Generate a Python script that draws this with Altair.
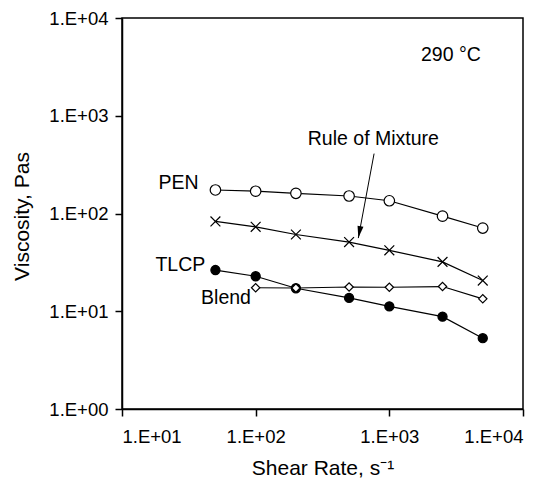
import altair as alt
import pandas as pd

# ---- data ----
shear_rate = [50, 100, 200, 500, 1000, 2500, 5000]
pen = [174, 169, 161, 151, 135, 94, 71]
rule_mix = [83, 73, 61, 51, 42, 32, 20.6]
tlcp = [26.4, 22.8, 17.2, 13.7, 11.2, 8.8, 5.3]
blend_x = [100, 200, 500, 1000, 2500, 5000]
blend = [17.4, 17.3, 17.7, 17.6, 17.9, 13.4]

series = ["PEN", "Rule of Mixture", "TLCP", "Blend"]

x_ticks = [10, 100, 1000, 10000]
y_ticks = [1, 10, 100, 1000, 10000]

ann_text = ["PEN", "TLCP", "Blend", "Rule of Mixture", "290 °C"]
ann_x = [26.5, 27.3, 60, 759, 2890]
ann_y = [206, 30.0, 13.7, 583, 4230]

arrow_x = [769]
arrow_y = [410]
arrow_x2 = [586]
arrow_y2 = [56]

rows = []
for s, xs, ys in [("PEN", shear_rate, pen), ("Rule of Mixture", shear_rate, rule_mix),
                  ("TLCP", shear_rate, tlcp), ("Blend", blend_x, blend)]:
    for xv, yv in zip(xs, ys):
        rows.append({"series": s, "rate": xv, "visc": yv})
df = pd.DataFrame(rows)
ann = pd.DataFrame({"t": ann_text, "x": ann_x, "y": ann_y})
arr = pd.DataFrame({"x": arrow_x, "y": arrow_y, "x2": arrow_x2, "y2": arrow_y2})

FONT = "Liberation Sans"

xscale = alt.Scale(type="log", domain=[10, 10000], nice=False)
yscale = alt.Scale(type="log", domain=[1, 10000], nice=False)

lbl = "'1.E+0' + round(log(datum.value) / LN10)"

xaxis = alt.Axis(values=x_ticks, labelExpr=lbl, grid=False, title="Shear Rate, s⁻¹",
                 labelFontSize=18.5, titleFontSize=21, tickSize=7, labelPadding=11,
                 titleY=65, titleBaseline="alphabetic")
yaxis = alt.Axis(values=y_ticks, labelExpr=lbl, grid=False, title="Viscosity, Pas",
                 labelFontSize=18.5, titleFontSize=21, tickSize=7, labelPadding=7,
                 titleX=-100, titleY=198, titleAngle=-90, titleBaseline="middle")

base = alt.Chart(df)

lines = base.mark_line(color="black", strokeWidth=1.2).encode(
    x=alt.X("rate:Q", scale=xscale, axis=xaxis),
    y=alt.Y("visc:Q", scale=yscale, axis=yaxis),
    detail="series:N",
)

cross = "M-1,-1L1,1M-1,1L1,-1"
points = base.mark_point(stroke="black", strokeWidth=1.2, opacity=1, filled=False).encode(
    x=alt.X("rate:Q", scale=xscale),
    y=alt.Y("visc:Q", scale=yscale),
    shape=alt.Shape("series:N", scale=alt.Scale(domain=series, range=["circle", cross, "circle", "diamond"]), legend=None),
    fill=alt.Fill("series:N", scale=alt.Scale(domain=series, range=["white", "transparent", "black", "white"]), legend=None),
    size=alt.Size("series:N", scale=alt.Scale(domain=series, range=[110, 70, 85, 55]), legend=None),
)

texts = alt.Chart(ann).mark_text(font=FONT, fontSize=19.5, color="black", align="center", baseline="middle").encode(
    x=alt.X("x:Q", scale=xscale),
    y=alt.Y("y:Q", scale=yscale),
    text="t:N",
)

arrow_line = alt.Chart(arr).mark_rule(color="black", strokeWidth=1).encode(
    x=alt.X("x:Q", scale=xscale),
    y=alt.Y("y:Q", scale=yscale),
    x2="x2:Q",
    y2="y2:Q",
)

head = alt.Chart(arr).mark_point(shape="M0,0L-0.5,-2L0.5,-2Z", filled=True, color="black",
                                 opacity=1, size=144, angle=10.5).encode(
    x=alt.X("x2:Q", scale=xscale),
    y=alt.Y("y2:Q", scale=yscale),
)

chart = alt.layer(lines, points, arrow_line, head, texts).properties(
    width=401, height=391, autosize="none",
    padding={"left": 114, "top": 10, "right": 25, "bottom": 70},
).configure_view(stroke="black", strokeWidth=1.5).configure_axis(
    domainColor="black", domainWidth=1.5, tickColor="black", tickWidth=1.5,
    labelColor="black", titleColor="black", labelFont=FONT, titleFont=FONT,
    titleFontWeight="normal",
).configure_text(font=FONT)

chart.save("out.html", embed_options={"renderer": "svg", "actions": False})
